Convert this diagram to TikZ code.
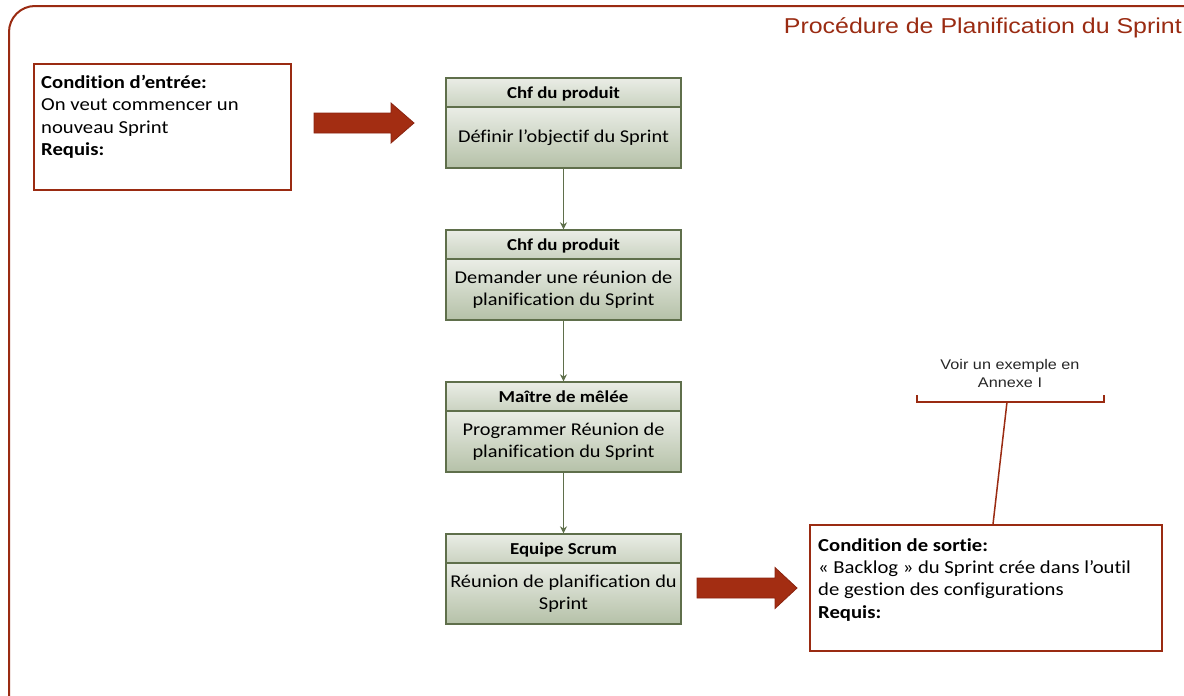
\documentclass[tikz,border=0pt]{standalone}
\usepackage{fontspec}
\setmainfont{Carlito}[FakeStretch=1.13, Ligatures=NoCommon]
\newfontfamily\arialfont{Liberation Sans}[FakeStretch=1.16]
\usetikzlibrary{arrows.meta}

\definecolor{brick}{HTML}{9A2B12}
\definecolor{arrowred}{HTML}{A32D12}
\definecolor{arrowedge}{HTML}{8A2410}
\definecolor{olive}{HTML}{5F6F4B}
\definecolor{boxtop}{HTML}{EAEDE6}
\definecolor{boxbot}{HTML}{B5C1A8}

\tikzset{
  frame/.style={draw=brick, line width=2pt},
  condbox/.style={draw=brick, line width=1.6pt, fill=white, minimum width=#1, inner sep=0pt},
  condtext/.style={anchor=north west, inner sep=0pt, align=left,
    font=\fontsize{18.3}{22.4}\selectfont},
  header/.style={draw=olive, line width=1.4pt, top color=boxtop, bottom color=boxbot!60!boxtop,
    minimum width=235pt, minimum height=29pt, inner sep=0pt, text height=15pt, text depth=3pt,
    font=\fontsize{16.7}{18}\selectfont\bfseries},
  body/.style={draw=olive, line width=1.4pt, top color=boxtop, bottom color=boxbot,
    minimum width=235pt, minimum height=61pt, inner sep=0pt, align=center,
    font=\fontsize{18}{22}\selectfont},
  conn/.style={draw=olive, line width=1.8pt, -{Stealth[length=7pt,width=7pt]}},
  bigarrow/.style={draw=arrowedge, fill=arrowred, line width=0.8pt, line join=miter},
  note/.style={font=\arialfont\fontsize{14}{18}\selectfont, align=center, text=black!85},
}

\begin{document}
\begin{tikzpicture}[x=1pt, y=-1pt]
\useasboundingbox (0,0) rectangle (1184,696);
\clip (0,0) rectangle (1184,696);

% outer frame with rounded top-left corner
\draw[frame, rounded corners=26pt] (9,720) -- (9,6) -- (1210,6);

% title
\node[anchor=base east, inner sep=0pt, text=brick, font=\arialfont\fontsize{21.5}{24}\selectfont]
  (title) at (1182,33) {Procédure de Planification du Sprint};

% entry condition
\node[condbox=257pt, minimum height=126pt] (entry) at (162.5,127) {};
\node[condtext] (entrytext) at (41,75) {\textbf{Condition d’entrée:}\\On veut commencer un\\nouveau Sprint\\\textbf{Requis:}};

% process steps
\node[header] (h1) at (563.5,92.5) {Chf du produit};
\node[body]   (b1) at (563.5,137.5) {Définir l’objectif du Sprint};

\node[header] (h2) at (563.5,244.5) {Chf du produit};
\node[body]   (b2) at (563.5,289.5) {Demander une réunion de\\planification du Sprint};

\node[header] (h3) at (563.5,396.5) {Maître de mêlée};
\node[body]   (b3) at (563.5,441.5) {Programmer Réunion de\\planification du Sprint};

\node[header] (h4) at (563.5,548.5) {Equipe Scrum};
\node[body]   (b4) at (563.5,593.5) {Réunion de planification du\\Sprint};

\draw[conn] (b1.south) -- (h2.north);
\draw[conn] (b2.south) -- (h3.north);
\draw[conn] (b3.south) -- (h4.north);

% block arrows: tail x, shaft half-height 10, head from -23 to tip
\coordinate (arrowin) at (314,123);
\draw[bigarrow] (arrowin) ++(0,-10) -- ++(77,0) -- ++(0,-10) -- ++(23,20) -- ++(-23,20)
  -- ++(0,-10) -- ++(-77,0) -- cycle;
\coordinate (arrowout) at (697,588);
\draw[bigarrow] (arrowout) ++(0,-10) -- ++(78,0) -- ++(0,-10.5) -- ++(22,20.5) -- ++(-22,20.5)
  -- ++(0,-10.5) -- ++(-78,0) -- cycle;

% exit condition
\node[condbox=352pt, minimum height=126pt] (exit) at (986,588) {};
\node[condtext] (exittext) at (818,538) {\textbf{Condition de sortie:}\\« Backlog » du Sprint crée dans l’outil\\de gestion des configurations\\\textbf{Requis:}};

% annotation bracket
\node[note] (notetext) at (1010,373) {Voir un exemple en\\Annexe I};
\coordinate (brk) at (1007,402);
\draw[brick, line width=1.5pt] (917,395) -- (917,402) -- (1104,402) -- (1104,395);
\draw[brick, line width=1.5pt] (brk) -- ([xshift=7pt]exit.north);

\end{tikzpicture}
\end{document}
